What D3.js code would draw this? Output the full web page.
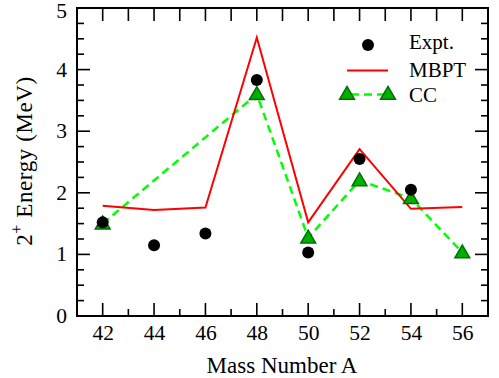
<!DOCTYPE html>
<html><head><meta charset="utf-8">
<script src="https://cdn.jsdelivr.net/npm/d3@7"></script>
<style>body{margin:0;background:#fff}svg{display:block}</style>
</head><body>
<svg id="c" width="499" height="378"></svg>
<script>
const massA = [42,44,46,48,50,52,54,56];
const exptA = [42,44,46,48,50,52,54];
const exptE = [1.52,1.15,1.34,3.83,1.03,2.55,2.05];
const mbptA = [42,44,46,48,50,52,54,56];
const mbptE = [1.79,1.72,1.76,4.52,1.52,2.71,1.74,1.77];
const ccA = [42,48,50,52,54,56];
const ccE = [1.50,3.60,1.27,2.20,1.91,1.03];
const yTicks = [0,1,2,3,4,5];
const legendLabels = ["Expt.","MBPT","CC"];

const FONT = "Liberation Serif";
const svg = d3.select("#c");
const L=77,R=488,T=8,B=316;
const x = d3.scaleLinear().domain([41,57]).range([L,R]);
const y = d3.scaleLinear().domain([0,5]).range([B,T]);

const g = svg.append("g");
const xMinor = d3.range(41,58,1);
const yMinor = d3.range(0,5.01,0.25);
const isMajX = v => massA.includes(v);
const isMajY = v => Math.abs(v-Math.round(v))<1e-6;
xMinor.forEach(v=>{
  const len = isMajX(v)?13:7;
  g.append("line").attr("x1",x(v)).attr("x2",x(v)).attr("y1",B).attr("y2",B-len).attr("stroke","#000").attr("stroke-width",1.6);
  g.append("line").attr("x1",x(v)).attr("x2",x(v)).attr("y1",T).attr("y2",T+13).attr("stroke","#000").attr("stroke-width",1.6);
});
yMinor.forEach(v=>{
  const len = isMajY(v)?13:7;
  g.append("line").attr("y1",y(v)).attr("y2",y(v)).attr("x1",L).attr("x2",L+len).attr("stroke","#000").attr("stroke-width",1.6);
  g.append("line").attr("y1",y(v)).attr("y2",y(v)).attr("x1",R).attr("x2",R-len).attr("stroke","#000").attr("stroke-width",1.6);
});
g.append("rect").attr("x",L).attr("y",T).attr("width",R-L).attr("height",B-T).attr("fill","none").attr("stroke","#000").attr("stroke-width",2);

massA.forEach(v=>{
  g.append("text").attr("x",x(v)+0.5).attr("y",340).attr("text-anchor","middle").attr("font-family",FONT).attr("font-size",21.5).text(v);
});
yTicks.forEach(v=>{
  g.append("text").attr("x",67).attr("y",Math.max(y(v)+7,17.5)).attr("text-anchor","end").attr("font-family",FONT).attr("font-size",21.5).text(v);
});
g.append("text").attr("x",282).attr("y",373).attr("text-anchor","middle").attr("font-family",FONT).attr("font-size",23).text("Mass Number A");
const yl = g.append("text").attr("transform","translate(32,161) rotate(-90)").attr("text-anchor","middle").attr("font-family",FONT).attr("font-size",23).attr("letter-spacing",0.6);
yl.append("tspan").text("2");
yl.append("tspan").attr("font-size",16).attr("dy",-10).text("+");
yl.append("tspan").attr("dy",10).text(" Energy (MeV)");

const line = d3.line().x(d=>x(d[0])).y(d=>y(d[1]));
g.append("path").datum(ccA.map((a,i)=>[a,ccE[i]])).attr("d",line).attr("fill","none").attr("stroke","#00ff00").attr("stroke-width",2.5).attr("stroke-dasharray","8,5");
g.append("path").datum(mbptA.map((a,i)=>[a,mbptE[i]])).attr("d",line).attr("fill","none").attr("stroke","#ff0000").attr("stroke-width",2);
const tri = d3.symbol().type(d3.symbolTriangle).size(95);
ccA.forEach((a,i)=>{
  g.append("path").attr("d",tri).attr("transform",`translate(${x(a)},${y(ccE[i])+1})`).attr("fill","#00b000").attr("stroke","#007000").attr("stroke-width",1.5);
});
exptA.forEach((a,i)=>{
  g.append("circle").attr("cx",x(a)).attr("cy",y(exptE[i])).attr("r",6).attr("fill","#000");
});

const lg = svg.append("g");
lg.append("circle").attr("cx",368).attr("cy",45).attr("r",6).attr("fill","#000");
lg.append("line").attr("x1",347).attr("x2",388).attr("y1",70.5).attr("y2",70.5).attr("stroke","#ff0000").attr("stroke-width",2);
lg.append("line").attr("x1",347).attr("x2",388).attr("y1",94.5).attr("y2",94.5).attr("stroke","#00ff00").attr("stroke-width",2.5).attr("stroke-dasharray","8,5").attr("stroke-dashoffset",-4);
[347,388].forEach(cx=>lg.append("path").attr("d",tri).attr("transform",`translate(${cx},95)`).attr("fill","#00b000").attr("stroke","#007000").attr("stroke-width",1.5));
[49,77,101.5].forEach((yy,i)=>lg.append("text").attr("x",409).attr("y",yy).attr("font-family",FONT).attr("font-size",21).text(legendLabels[i]));
</script>
</body></html>
